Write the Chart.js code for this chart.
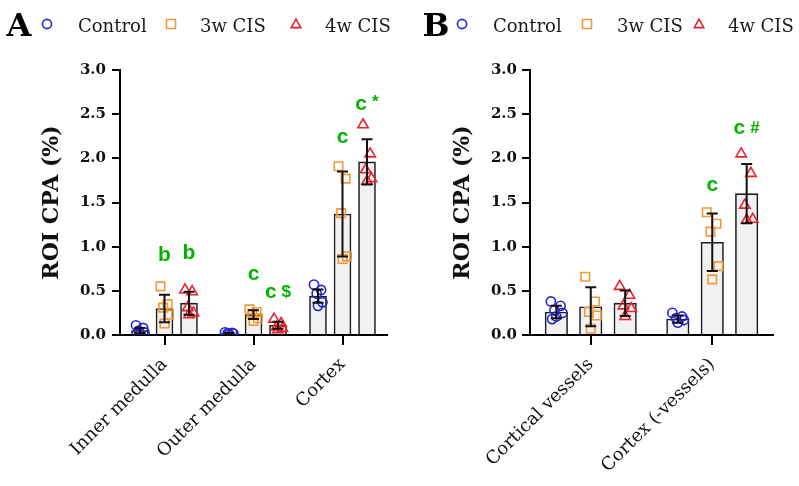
<!DOCTYPE html>
<html><head><meta charset="utf-8">
<script src="https://cdn.jsdelivr.net/npm/chart.js@4.4.1/dist/chart.umd.min.js"></script>
<style>
html,body{margin:0;padding:0;background:#fff;}
#wrap{position:relative;width:799px;height:486px;overflow:hidden;}
#pa{position:absolute;left:0;top:0;width:400px;height:486px;}
#pb{position:absolute;left:400px;top:0;width:399px;height:486px;}
</style></head><body>
<div id="wrap"><div id="pa"><canvas id="ca"></canvas></div><div id="pb"><canvas id="cb"></canvas></div></div>
<script>
// ---------- data ----------
const seriesNames = ['Control', '3w CIS', '4w CIS'];
const yTickValues = [0, 0.5, 1.0, 1.5, 2.0, 2.5, 3.0];

// Panel A
const catsA = ['Inner medulla', 'Outer medulla', 'Cortex'];
const meanA_control = [0.05, 0.02, 0.44];
const meanA_3w      = [0.30, 0.23, 1.37];
const meanA_4w      = [0.36, 0.11, 1.96];
const sdA_control   = [0.03, 0.005, 0.075];
const sdA_3w        = [0.155, 0.05, 0.48];
const sdA_4w        = [0.13, 0.04, 0.255];
const ptsA_control  = [[0.11, 0.08, 0.05, 0.03, 0.01], [0.03, 0.025, 0.02, 0.015, 0.01], [0.57, 0.51, 0.47, 0.37, 0.33]];
const ptsA_3w       = [[0.55, 0.35, 0.31, 0.23, 0.13], [0.29, 0.26, 0.24, 0.19, 0.16], [1.91, 1.77, 1.38, 0.89, 0.86]];
const ptsA_4w       = [[0.51, 0.49, 0.31, 0.25, 0.23], [0.18, 0.13, 0.09, 0.075, 0.06], [2.38, 2.05, 1.87, 1.77, 1.74]];
const sigA_3w  = ['b', 'c', 'c'];
const sigYA_3w = [0.89, 0.68, 2.23];
const sigA_4w  = ['b', 'c $', 'c *'];
const sigYA_4w = [0.92, 0.47, 2.60];

// Panel B
const catsB = ['Cortical vessels', 'Cortex (-vessels)'];
const meanB_control = [0.26, 0.18];
const meanB_3w      = [0.32, 1.05];
const meanB_4w      = [0.36, 1.60];
const sdB_control   = [0.07, 0.04];
const sdB_3w        = [0.22, 0.325];
const sdB_4w        = [0.145, 0.335];
const ptsB_control  = [[0.38, 0.33, 0.28, 0.25, 0.21, 0.18], [0.25, 0.21, 0.19, 0.17, 0.14]];
const ptsB_3w       = [[0.66, 0.38, 0.26, 0.22, 0.07], [1.39, 1.26, 1.17, 0.78, 0.63]];
const ptsB_4w       = [[0.55, 0.45, 0.33, 0.30, 0.21], [2.05, 1.83, 1.47, 1.31, 1.30]];
const sigB_3w  = ['', 'c'];
const sigYB_3w = [null, 1.69];
const sigB_4w  = ['', 'c #'];
const sigYB_4w = [null, 2.33];

// ---------- styles ----------
const COLORS = ['#2424d2', '#f29a38', '#e8232e'];
const STYLES = ['circle', 'rect', 'triangle'];
const RADII = [4.6, 6, 6];
const JITTER = [-0.045, 0.035, -0.015, 0.05, 0.0, -0.035];
const SERIF = "'DejaVu Serif', serif";
const GREEN = '#00b400';

function drawMarker(ctx, style, x, y, r, color) {
  ctx.save();
  ctx.strokeStyle = color; ctx.lineWidth = 1.6;
  ctx.beginPath();
  if (style === 'circle') { ctx.arc(x, y, r, 0, Math.PI * 2); }
  else if (style === 'rect') { ctx.rect(x - r, y - r, 2 * r, 2 * r); }
  else { ctx.moveTo(x, y - r * 1.1); ctx.lineTo(x + r * 1.05, y + r * 0.8); ctx.lineTo(x - r * 1.05, y + r * 0.8); ctx.closePath(); }
  ctx.stroke();
  ctx.restore();
}

const errorBarPlugin = {
  id: 'errorBars',
  afterDatasetsDraw(chart) {
    const ctx = chart.ctx, ys = chart.scales.y;
    chart.data.datasets.forEach((ds, di) => {
      if (!ds.errSd) return;
      const meta = chart.getDatasetMeta(di);
      meta.data.forEach((bar, i) => {
        const m = ds.data[i].y, s = ds.errSd[i];
        const yT = ys.getPixelForValue(m + s), yB = ys.getPixelForValue(Math.max(0, m - s));
        ctx.save();
        ctx.strokeStyle = '#111'; ctx.lineWidth = 2;
        ctx.beginPath();
        ctx.moveTo(bar.x, yT); ctx.lineTo(bar.x, yB);
        ctx.moveTo(bar.x - 5.5, yT); ctx.lineTo(bar.x + 5.5, yT);
        ctx.moveTo(bar.x - 5.5, yB); ctx.lineTo(bar.x + 5.5, yB);
        ctx.stroke();
        ctx.restore();
      });
      if (ds.sigText) {
        meta.data.forEach((bar, i) => {
          const t = ds.sigText[i];
          if (!t) return;
          const parts = t.split(' ');
          const y = ys.getPixelForValue(ds.sigY[i]);
          ctx.save();
          ctx.fillStyle = GREEN; ctx.textBaseline = 'middle';
          ctx.font = "bold 21px 'Liberation Sans', Arial, sans-serif";
          const w1 = ctx.measureText(parts[0]).width;
          let w2 = 0, gap = 0;
          if (parts[1]) {
            ctx.font = "bold 17px 'Liberation Sans', Arial, sans-serif";
            w2 = ctx.measureText(parts[1]).width; gap = 5;
          }
          const x0 = bar.x - (w1 + gap + w2) / 2;
          ctx.font = "bold 21px 'Liberation Sans', Arial, sans-serif";
          ctx.textAlign = 'left';
          ctx.fillText(parts[0], x0, y - 1);
          if (parts[1]) {
            ctx.font = "bold 17px 'Liberation Sans', Arial, sans-serif";
            ctx.fillText(parts[1], x0 + w1 + gap, parts[1] === '*' ? y - 3 : y - 1);
          }
          ctx.restore();
        });
      }
    });
  }
};

const panelLegendPlugin = {
  id: 'panelLegend',
  afterDraw(chart, args, opts) {
    const ctx = chart.ctx;
    ctx.save();
    ctx.fillStyle = '#000';
    ctx.font = "bold 32px " + SERIF;
    ctx.textAlign = 'center'; ctx.textBaseline = 'alphabetic';
    ctx.fillText(opts.letter, opts.letterX, 36);
    ctx.font = "18px " + SERIF;
    ctx.textAlign = 'left';
    seriesNames.forEach((n, k) => {
      drawMarker(ctx, STYLES[k], opts.markerX[k], 24, k === 0 ? 4.6 : 4.5, COLORS[k]);
      ctx.fillStyle = '#1a1a1a';
      ctx.fillText(n, opts.textX[k], 32);
    });
    ctx.restore();
  }
};

function buildChart(id, cfg) {
  const n = cfg.labels.length;
  const step = cfg.catPct / 3;
  const datasets = [];
  for (let k = 0; k < 3; k++) {
    datasets.push({
      type: 'bar', label: seriesNames[k],
      data: cfg.means[k].map((v, i) => ({ x: i + (k - 1) * step, y: v })),
      backgroundColor: '#f1f1f1', borderColor: '#1c1c1c', borderWidth: 1.6,
      barThickness: cfg.barPx, grouped: false,
      errSd: cfg.sds[k], sigText: cfg.sig[k], sigY: cfg.sigY[k],
      xAxisID: 'x', yAxisID: 'y', order: 2
    });
  }
  for (let k = 0; k < 3; k++) {
    const pts = [];
    cfg.pts[k].forEach((arr, i) => {
      arr.forEach((v, j) => {
        pts.push({ x: i + (k - 1) * step + JITTER[j % JITTER.length], y: v });
      });
    });
    datasets.push({
      type: 'scatter', label: seriesNames[k] + ' points', data: pts,
      pointStyle: STYLES[k], pointRadius: RADII[k], pointBorderWidth: 1.6,
      borderColor: COLORS[k], backgroundColor: 'rgba(0,0,0,0)',
      pointBorderColor: COLORS[k], pointBackgroundColor: 'rgba(0,0,0,0)',
      showLine: false,
      xAxisID: 'x', yAxisID: 'y', order: 1
    });
  }
  return new Chart(document.getElementById(id), {
    type: 'bar',
    data: { datasets },
    options: {
      responsive: true, maintainAspectRatio: false, animation: false,
      layout: { padding: { top: 70, right: cfg.rightPad, left: 0, bottom: 0 } },
      plugins: {
        legend: { display: false }, tooltip: { enabled: false },
        panelLegend: cfg.legend
      },
      scales: {
        x: {
          type: 'linear', offset: false, min: -0.5, max: n - 0.5,
          afterBuildTicks(s) { s.ticks = cfg.labels.map((l, i) => ({ value: i })); },
          grid: { offset: false, drawOnChartArea: false, drawTicks: true, tickLength: 10, color: '#000', lineWidth: 2 },
          border: { display: true, color: '#000', width: 2 },
          ticks: { color: '#111', font: { family: SERIF, size: 18 }, minRotation: 45, maxRotation: 45, autoSkip: false, padding: 9,
                   callback: (v) => cfg.labels[Math.round(v)] },
          afterFit(s) { s.height = 151; }
        },
        y: {
          type: 'linear', min: 0, max: 3,
          afterBuildTicks(s) { s.ticks = yTickValues.map(v => ({ value: v })); },
          grid: { drawOnChartArea: false, drawTicks: true, tickLength: 8, color: '#000', lineWidth: 2 },
          border: { display: true, color: '#000', width: 2 },
          ticks: { color: '#111', font: { family: SERIF, size: 15, weight: 'bold' }, padding: cfg.tickPad, callback: v => Number(v).toFixed(1) },
          title: { display: true, text: 'ROI CPA (%)', color: '#111', font: { family: SERIF, size: 22, weight: 'bold' }, padding: { top: cfg.titlePad, bottom: 0 } },
          afterFit(s) { s.width = cfg.yWidth; }
        }
      }
    },
    plugins: [errorBarPlugin, panelLegendPlugin]
  });
}

buildChart('ca', {
  labels: catsA,
  means: [meanA_control, meanA_3w, meanA_4w],
  sds: [sdA_control, sdA_3w, sdA_4w],
  pts: [ptsA_control, ptsA_3w, ptsA_4w],
  sig: [null, sigA_3w, sigA_4w], sigY: [null, sigYA_3w, sigYA_4w],
  catPct: 0.826, barPx: 17, rightPad: 13, yWidth: 120, tickPad: 6, titlePad: 39,
  legend: { letter: 'A', letterX: 19, markerX: [47, 171, 296], textX: [78, 200, 325] }
});
buildChart('cb', {
  labels: catsB,
  means: [meanB_control, meanB_3w, meanB_4w],
  sds: [sdB_control, sdB_3w, sdB_4w],
  pts: [ptsB_control, ptsB_3w, ptsB_4w],
  sig: [null, sigB_3w, sigB_4w], sigY: [null, sigYB_3w, sigYB_4w],
  catPct: 0.85, barPx: 22.5, rightPad: 26, yWidth: 130, tickPad: 5, titlePad: 50,
  legend: { letter: 'B', letterX: 36, markerX: [62, 187, 299], textX: [93, 217, 328] }
});
</script>
</body></html>
